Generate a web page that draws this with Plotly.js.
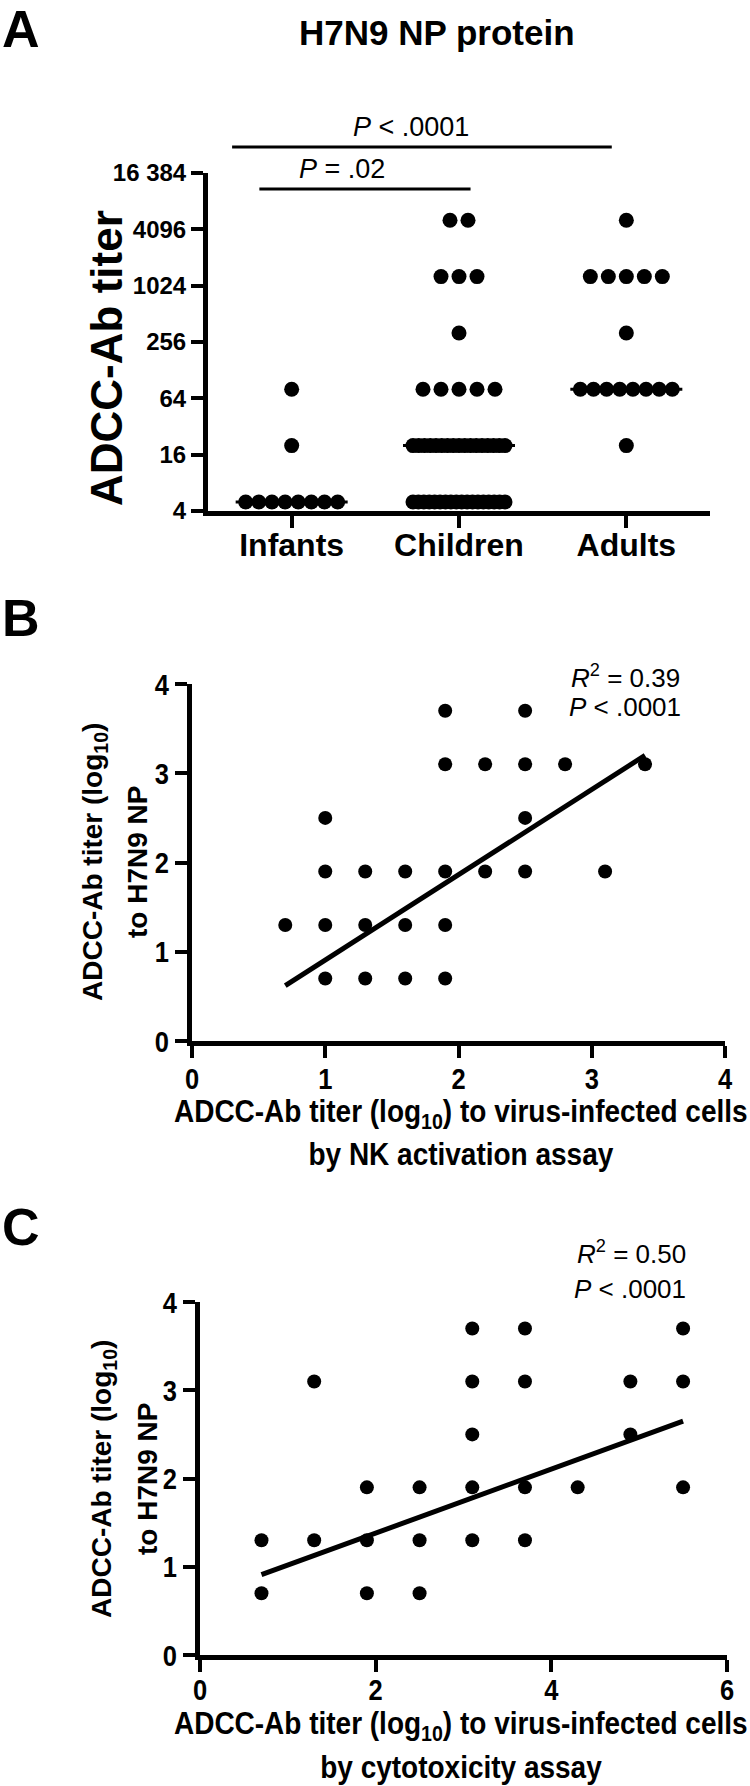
<!DOCTYPE html>
<html><head><meta charset="utf-8">
<script src="https://cdn.plot.ly/plotly-3.0.1.min.js"></script>
<style>html,body{margin:0;padding:0;background:#fff;}#chart{width:750px;height:1786px;}</style>
</head><body><div id="chart"></div>
<script>
// ---------------- Panel A data ----------------
const groupNames = ['Infants', 'Children', 'Adults'];
const infantsTiters = [5,5,5,5,5,5,5,5, 20, 80];
const childrenTiters = [5,5,5,5,5,5,5,5,5,5,5,5,5,5,5,5,5,5,
  20,20,20,20,20,20,20,20,20,20,20,20,20,20,20,20,20,
  80,80,80,80,80, 320, 1280,1280,1280, 5120,5120];
const adultsTiters = [20, 80,80,80,80,80,80,80,80, 320, 1280,1280,1280,1280,1280, 5120];
const titerTickVals = [4, 16, 64, 256, 1024, 4096, 16384];
const titerTickText = ['4', '16', '64', '256', '1024', '4096', '16 384'];
const sigLabels = ['<i>P</i> = .02', '<i>P</i> &lt; .0001'];

// ---------------- Panel B data ----------------
const nkX = [0.7, 1.0,1.0,1.0,1.0, 1.3,1.3,1.3, 1.6,1.6,1.6, 1.9,1.9,1.9,1.9,1.9, 2.2,2.2, 2.5,2.5,2.5,2.5, 2.8, 3.1, 3.4];
const nkY = [1.3, 2.5,1.9,1.3,0.7, 1.9,1.3,0.7, 1.9,1.3,0.7, 3.7,3.1,1.9,1.3,0.7, 3.1,1.9, 3.7,3.1,2.5,1.9, 3.1, 1.9, 3.1];
const nkFitX = [0.7, 3.4];
const nkFitY = [0.62, 3.2];
const nkStats = ['<i>R</i><sup>2</sup> = 0.39', '<i>P</i> &lt; .0001'];
const nkTicks = [0, 1, 2, 3, 4];

// ---------------- Panel C data ----------------
const ctxX = [0.7,0.7, 1.3,1.3, 1.9,1.9,1.9, 2.5,2.5,2.5, 3.1,3.1,3.1,3.1,3.1, 3.7,3.7,3.7,3.7, 4.3, 4.9,4.9, 5.5,5.5,5.5];
const ctxY = [1.3,0.7, 3.1,1.3, 1.9,1.3,0.7, 1.9,1.3,0.7, 3.7,3.1,2.5,1.9,1.3, 3.7,3.1,1.9,1.3, 1.9, 3.1,2.5, 3.7,3.1,1.9];
const ctxFitX = [0.7, 5.5];
const ctxFitY = [0.91, 2.65];
const ctxStats = ['<i>R</i><sup>2</sup> = 0.50', '<i>P</i> &lt; .0001'];
const ctxTicks = [0, 2, 4, 6];
const npTicks = [0, 1, 2, 3, 4];

const xTitleLine1 = 'ADCC-Ab titer (log<sub>10</sub>) to virus-infected cells';
const xTitleB2 = 'by NK activation assay';
const xTitleC2 = 'by cytotoxicity assay';
const yTitleLine1 = 'ADCC-Ab titer (log<sub>10</sub>)';
const yTitleLine2 = 'to H7N9 NP';

// ---------------- layout helpers ----------------
const W = 750, H = 1786;
const PX = p => p / W;
const PY = p => 1 - p / H;
const SANS = "'Liberation Sans', Arial, sans-serif";

// Panel A geometry (px)
const A_L = 208, A_R = 710, A_T = 173, A_B = 511;
const pxPerCat = (A_R - A_L) / 3;

function swarm(values, center) {
  const xs = [], ys = [];
  const uniq = [...new Set(values)];
  uniq.forEach(v => {
    const n = values.filter(t => t === v).length;
    const stepPx = n > 1 ? Math.min(18, 92 / (n - 1)) : 0;
    for (let i = 0; i < n; i++) {
      xs.push(center + (i - (n - 1) / 2) * stepPx / pxPerCat);
      ys.push(v);
    }
  });
  return {xs, ys};
}
function median(arr) {
  const s = [...arr].sort((a, b) => a - b);
  const m = Math.floor(s.length / 2);
  return s.length % 2 ? s[m] : (s[m - 1] + s[m]) / 2;
}

const groups = [infantsTiters, childrenTiters, adultsTiters];
const traces = [];
const medX = [], medY = [];
const medHalf = 56 / pxPerCat;
groups.forEach((g, i) => {
  const m = median(g);
  medX.push(i - medHalf, i + medHalf, null);
  medY.push(m, m, null);
});
traces.push({type: 'scatter', mode: 'lines', x: medX, y: medY, xaxis: 'x', yaxis: 'y',
  line: {color: '#000', width: 3}, hoverinfo: 'skip', showlegend: false, cliponaxis: false});
groups.forEach((g, i) => {
  const s = swarm(g, i);
  traces.push({type: 'scatter', mode: 'markers', x: s.xs, y: s.ys, xaxis: 'x', yaxis: 'y',
    name: groupNames[i], marker: {color: '#000', size: 15, line: {width: 0}},
    showlegend: false, cliponaxis: false});
});

traces.push({type: 'scatter', mode: 'markers', x: nkX, y: nkY, xaxis: 'x2', yaxis: 'y2',
  marker: {color: '#000', size: 14, line: {width: 0}}, showlegend: false, cliponaxis: false});
traces.push({type: 'scatter', mode: 'lines', x: nkFitX, y: nkFitY, xaxis: 'x2', yaxis: 'y2',
  line: {color: '#000', width: 5}, showlegend: false, cliponaxis: false});
traces.push({type: 'scatter', mode: 'markers', x: ctxX, y: ctxY, xaxis: 'x3', yaxis: 'y3',
  marker: {color: '#000', size: 14, line: {width: 0}}, showlegend: false, cliponaxis: false});
traces.push({type: 'scatter', mode: 'lines', x: ctxFitX, y: ctxFitY, xaxis: 'x3', yaxis: 'y3',
  line: {color: '#000', width: 5}, showlegend: false, cliponaxis: false});

const axBase = {showline: true, linecolor: '#000', linewidth: 5, ticks: 'outside', ticklen: 12,
  tickwidth: 4, tickcolor: '#000', showgrid: false, zeroline: false, fixedrange: true};
const tickNum = {family: SANS, size: 30, weight: 'bold', color: '#000'};

const layout = {
  width: W, height: H, margin: {l: 0, r: 0, t: 0, b: 0},
  paper_bgcolor: '#fff', plot_bgcolor: 'rgba(0,0,0,0)', showlegend: false,
  font: {family: SANS, color: '#000'},
  xaxis: Object.assign({}, axBase, {domain: [PX(A_L), PX(A_R)], range: [-0.5, 2.5], anchor: 'y',
    tickmode: 'array', tickvals: [0, 1, 2], ticktext: groupNames, ticklabelstandoff: -10,
    tickfont: {family: SANS, size: 32, weight: 'bold', color: '#000'}}),
  yaxis: Object.assign({}, axBase, {domain: [PY(A_B), PY(A_T)], type: 'log',
    range: [Math.log10(4), Math.log10(16384)], anchor: 'x',
    tickmode: 'array', tickvals: titerTickVals, ticktext: titerTickText,
    tickfont: {family: SANS, size: 24, weight: 'bold', color: '#000'}}),
  xaxis2: Object.assign({}, axBase, {domain: [PX(192), PX(725)], range: [0, 4], anchor: 'y2',
    tickmode: 'array', tickvals: nkTicks, ticklabelstandoff: -5, tickfont: tickNum}),
  yaxis2: Object.assign({}, axBase, {domain: [PY(1041), PY(684)], range: [0, 4], anchor: 'x2',
    tickmode: 'array', tickvals: npTicks, tickfont: tickNum}),
  xaxis3: Object.assign({}, axBase, {domain: [PX(200), PX(727)], range: [0, 6], anchor: 'y3',
    tickmode: 'array', tickvals: ctxTicks, ticklabelstandoff: -8, tickfont: tickNum}),
  yaxis3: Object.assign({}, axBase, {domain: [PY(1655), PY(1302)], range: [0, 4], anchor: 'x3',
    tickmode: 'array', tickvals: npTicks, tickfont: tickNum}),
  shapes: [
    {type: 'line', xref: 'x', yref: 'paper', x0: -0.193, x1: 1.069, y0: PY(189), y1: PY(189),
      line: {color: '#000', width: 3}},
    {type: 'line', xref: 'x', yref: 'paper', x0: -0.356, x1: 1.913, y0: PY(147), y1: PY(147),
      line: {color: '#000', width: 3}}
  ],
  annotations: []
};

function ann(text, x, y, opts) {
  layout.annotations.push(Object.assign({text: text, xref: 'paper', yref: 'paper',
    x: PX(x), y: PY(y), xanchor: 'center', yanchor: 'middle', showarrow: false, borderpad: 0,
    font: {family: SANS, size: 26, color: '#000'}}, opts || {}));
  return layout.annotations.length - 1;
}
const boldSans = s => ({family: SANS, size: s, weight: 'bold', color: '#000'});
const plain = s => ({family: SANS, size: s, color: '#000'});

// Panel A texts
ann('A', 1, 29, {xanchor: 'left', font: boldSans(52)});
ann('H7N9 NP protein', 437, 33, {font: boldSans(35)});
ann('ADCC-Ab titer', 106, 358, {textangle: -90, font: boldSans(44)});
ann(sigLabels[1], 411, 127, {font: plain(27)});
ann(sigLabels[0], 342, 169, {font: plain(27)});

// Panel B texts
ann('B', 1, 618, {xanchor: 'left', font: boldSans(52)});
ann(yTitleLine1, 94, 862, {textangle: -90, font: boldSans(28)});
ann(yTitleLine2, 137, 862, {textangle: -90, font: boldSans(28)});
const bT1 = ann(xTitleLine1, 461, 1114, {font: boldSans(31)});
const bT2 = ann(xTitleB2, 461, 1154, {font: boldSans(31)});
ann(nkStats[0], 681, 676, {xanchor: 'right', font: plain(26)});
ann(nkStats[1], 682, 707, {xanchor: 'right', font: plain(26)});

// Panel C texts
ann('C', 1, 1227, {xanchor: 'left', font: boldSans(52)});
ann(yTitleLine1, 103, 1479, {textangle: -90, font: boldSans(28)});
ann(yTitleLine2, 147, 1479, {textangle: -90, font: boldSans(28)});
const cT1 = ann(xTitleLine1, 461, 1726, {font: boldSans(31)});
const cT2 = ann(xTitleC2, 461, 1767, {font: boldSans(31)});
ann(ctxStats[0], 687, 1252, {xanchor: 'right', font: plain(26)});
ann(ctxStats[1], 687, 1289, {xanchor: 'right', font: plain(26)});

// horizontally condense a text element about a given anchor (Arial Narrow look)
function condense(el, s, anchor) {
  const bb = el.getBBox();
  let ax = anchor === 'end' ? bb.x + bb.width : bb.x + bb.width / 2;
  const prev = el.getAttribute('transform') || '';
  const ay = bb.y + bb.height / 2;
  const tl = el.transform.baseVal.consolidate();
  if (tl) { const M = tl.matrix; ax = M.a * ax + M.c * ay + M.e; }
  el.setAttribute('transform', 'translate(' + ax + ',0) scale(' + s + ',1) translate(' + (-ax) + ',0) ' + prev);
}

Plotly.newPlot('chart', traces, layout, {staticPlot: true, displayModeBar: false}).then(gd => {
  const annText = i => gd.querySelector('g.annotation[data-index="' + i + '"] text.annotation-text');
  [[bT1, bT2], [cT1, cT2]].forEach(pair => {
    const t1 = annText(pair[0]);
    const s = Math.min(1, 574 / t1.getBBox().width);
    condense(t1, s, 'middle');
    condense(annText(pair[1]), s, 'middle');
  });
  gd.querySelectorAll('.x2tick text, .x3tick text').forEach(t => condense(t, 0.85, 'middle'));
  gd.querySelectorAll('.y2tick text, .y3tick text').forEach(t => condense(t, 0.85, 'end'));
});
</script>
</body></html>
